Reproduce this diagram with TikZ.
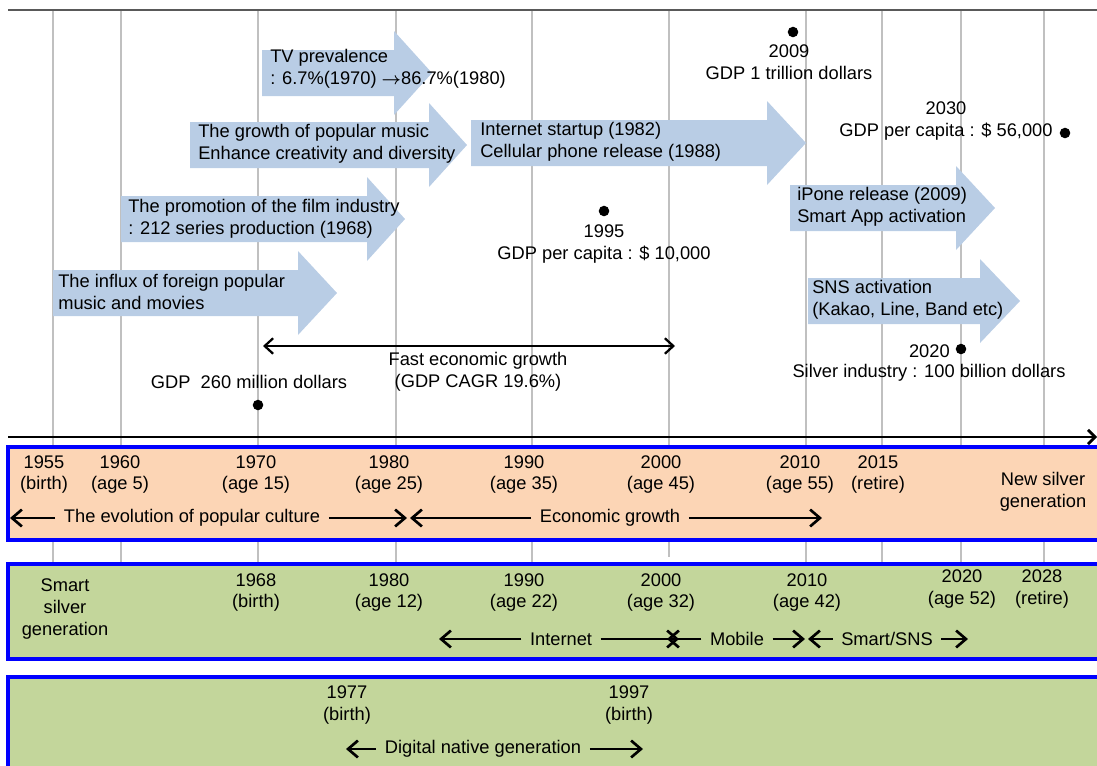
\documentclass[tikz,border=0pt]{standalone}
\usepackage{amsmath}
\usepackage{fontspec}
\setmainfont{Liberation Sans}
\usetikzlibrary{arrows.meta}

\definecolor{arrowblue}{RGB}{185,205,229}
\definecolor{peachband}{RGB}{252,213,181}
\definecolor{greenband}{RGB}{195,214,155}
\definecolor{gridgray}{RGB}{192,192,192}

\begin{document}
\begin{tikzpicture}[x=0.025cm, y=-0.025cm,
  every node/.style={font=\fontsize{13}{15.6}\selectfont, inner sep=0pt, align=center},
  gridline/.style={gridgray, line width=1.4pt},
  band/.style={draw=blue, line width=2.2pt},
  block/.style={fill=arrowblue},
  blocktext/.style={anchor=west, align=left},
  gdpdot/.style={circle, fill=black, minimum size=7.5pt},
  rowlabel/.style={inner xsep=6pt},
  timearrow/.style={line width=1.9pt, -{Straight Barb[length=7pt,width=12pt]}}]
\useasboundingbox (0,0) rectangle (1097,765);

% year grid
\foreach \x in {53,121,258,396,532,806,882,961,1044}
  \draw[gridline] (\x,10) -- (\x,564);
\draw[gridline] (669,10) -- (669,557);
\draw[line width=1.4pt, black!65] (8,10) -- (1097,10);

% block arrows
\fill[block] (262,50) -- (394,50) -- (394,31) -- (432,73) -- (394,115) -- (394,96) -- (262,96) -- cycle;
\fill[block] (190,122) -- (429,122) -- (429,103) -- (467,145) -- (429,187) -- (429,168) -- (190,168) -- cycle;
\fill[block] (121,196) -- (367,196) -- (367,177) -- (405,219) -- (367,261) -- (367,242) -- (121,242) -- cycle;
\fill[block] (53,270) -- (298,270) -- (298,251) -- (337,293) -- (298,335) -- (298,316) -- (53,316) -- cycle;
\fill[block] (471,120) -- (767,120) -- (767,101) -- (806,143) -- (767,185) -- (767,166) -- (471,166) -- cycle;
\fill[block] (790,185) -- (956,185) -- (956,166) -- (995,208) -- (956,250) -- (956,231) -- (790,231) -- cycle;
\fill[block] (808,278) -- (980,278) -- (980,259) -- (1020,301) -- (980,343) -- (980,324) -- (808,324) -- cycle;

\node[blocktext] (tv) at (270,69) {TV prevalence\\: 6.7\%(1970) $\boldsymbol{\rightarrow}$86.7\%(1980)};
\node[blocktext] (music) at (198,144) {The growth of popular music\\Enhance creativity and diversity};
\node[blocktext] (film) at (128,218.5) {The promotion of the film industry\\: 212 series production (1968)};
\node[blocktext] (influx) at (58,291.5) {The influx of foreign popular\\music and movies};
\node[blocktext] (internet) at (480,142) {Internet startup (1982)\\Cellular phone release (1988)};
\node[blocktext] (iphone) at (797,206.5) {iPone release (2009)\\Smart App activation};
\node[blocktext] (sns) at (812,300) {SNS activation\\(Kakao, Line, Band etc)};

% GDP milestones
\node[gdpdot] (d2009) at (793,32) {};
\node (t2009) at (789,62.5) {2009\\GDP 1 trillion dollars};
\node (t2030) at (946,121) {2030\\GDP per capita : \$ 56,000};
\node[gdpdot] (d2030) at (1065,133) {};
\node[gdpdot] (d1995) at (604,211) {};
\node (t1995) at (604,244) {1995\\GDP per capita : \$ 10,000};
\node[gdpdot] (d2020) at (961,349) {};
\node[anchor=east] (t2020) at (950,351) {2020};
\node (tsilver) at (929,373) {Silver industry : 100 billion dollars};
\node (t1970) at (249,382) {GDP\ \ 260 million dollars};
\node[gdpdot] (d1970) at (258,405) {};

\coordinate (fastL) at (263,346);
\coordinate (fastR) at (675,346);
\draw[line width=1.6pt, {Straight Barb[length=6pt,width=11pt]}-{Straight Barb[length=6pt,width=11pt]}] (fastL) -- (fastR);
\node (fast) at (478,371.5) {Fast economic growth\\(GDP CAGR 19.6\%)};

% time axis
\coordinate (axisL) at (8,437);
\coordinate (axisR) at (1097,437);
\draw[line width=2pt, -{Straight Barb[length=5pt,width=10pt]}] (axisL) -- (axisR);

% generation bands
\draw[band, fill=peachband] (8,447) rectangle (1110,540);
\draw[band, fill=greenband] (8,564) rectangle (1110,659);
\draw[band, fill=greenband] (8,677) rectangle (1110,780);

% first band: 1955 generation
\node (a1955) at (44,474.5) {1955\\(birth)};
\node (a1960) at (120,474.5) {1960\\(age 5)};
\node (a1970) at (256,474.5) {1970\\(age 15)};
\node (a1980) at (389,474.5) {1980\\(age 25)};
\node (a1990) at (524,474.5) {1990\\(age 35)};
\node (a2000) at (661,474.5) {2000\\(age 45)};
\node (a2010) at (800,474.5) {2010\\(age 55)};
\node (a2015) at (878,474.5) {2015\\(retire)};
\node (newsilver) at (1043,492) {New silver\\generation};

\node[rowlabel] (culture) at (192,518) {The evolution of popular culture};
\coordinate (cultureL) at (10,518);
\coordinate (cultureR) at (407,518);
\draw[timearrow] (culture) -- (cultureL);
\draw[timearrow] (culture) -- (cultureR);
\node[rowlabel] (economy) at (610,518) {Economic growth};
\coordinate (economyL) at (410,518);
\coordinate (economyR) at (822,518);
\draw[timearrow] (economy) -- (economyL);
\draw[timearrow] (economy) -- (economyR);

% second band: 1968 generation
\node (smart) at (65,609) {Smart\\silver\\generation};
\node (b1968) at (256,592.5) {1968\\(birth)};
\node (b1980) at (389,592.5) {1980\\(age 12)};
\node (b1990) at (524,592.5) {1990\\(age 22)};
\node (b2000) at (661,592.5) {2000\\(age 32)};
\node (b2010) at (807,592.5) {2010\\(age 42)};
\node (b2020) at (962,589) {2020\\(age 52)};
\node (b2028) at (1042,589) {2028\\(retire)};

\node[rowlabel] (web) at (561,639) {Internet};
\coordinate (webL) at (439,639);
\coordinate (webR) at (679,639);
\draw[timearrow] (web) -- (webL);
\draw[timearrow] (web) -- (webR);
\node[rowlabel] (mobile) at (737,639) {Mobile};
\coordinate (mobileL) at (667,639);
\coordinate (mobileR) at (805,639);
\draw[timearrow] (mobile) -- (mobileL);
\draw[timearrow] (mobile) -- (mobileR);
\node[rowlabel] (sms) at (887,639) {Smart/SNS};
\coordinate (smsL) at (808,639);
\coordinate (smsR) at (968,639);
\draw[timearrow] (sms) -- (smsL);
\draw[timearrow] (sms) -- (smsR);

% third band: digital natives
\node (c1977) at (347,705) {1977\\(birth)};
\node (c1997) at (629,705) {1997\\(birth)};
\node[rowlabel] (native) at (483,749) {Digital native generation};
\coordinate (nativeL) at (346,749);
\coordinate (nativeR) at (643,749);
\draw[timearrow] (native) -- (nativeL);
\draw[timearrow] (native) -- (nativeR);
\end{tikzpicture}
\end{document}
